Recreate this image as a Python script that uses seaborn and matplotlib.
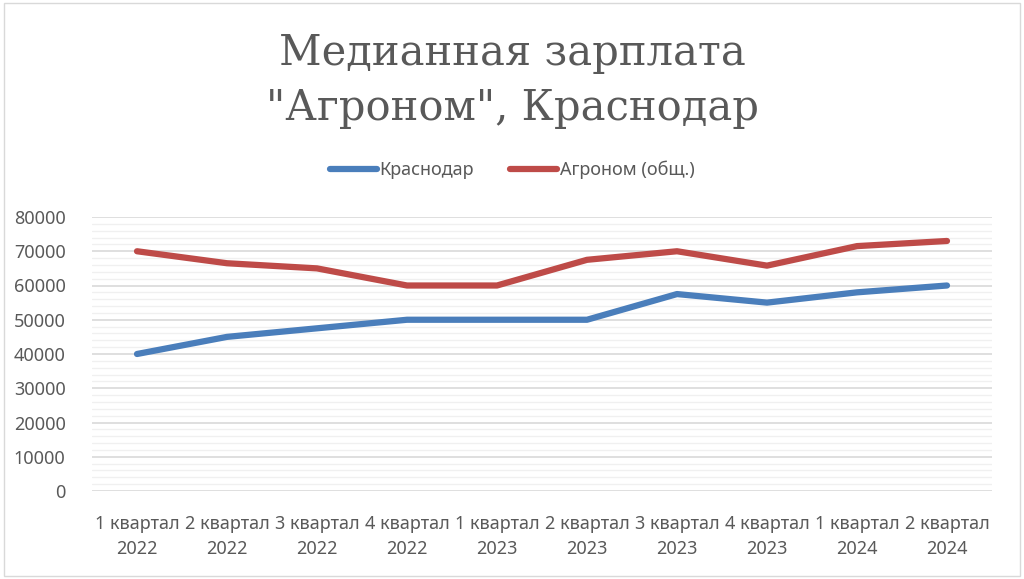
import matplotlib
matplotlib.use("Agg")
import matplotlib.pyplot as plt
import seaborn as sns
import pandas as pd
from matplotlib.patches import Rectangle
from matplotlib.ticker import MultipleLocator
from matplotlib.lines import Line2D

categories = ["1 квартал\n2022", "2 квартал\n2022", "3 квартал\n2022", "4 квартал\n2022",
              "1 квартал\n2023", "2 квартал\n2023", "3 квартал\n2023", "4 квартал\n2023",
              "1 квартал\n2024", "2 квартал\n2024"]
krasnodar = [40000, 45000, 47500, 50000, 50000, 50000, 57500, 55000, 58000, 60000]
agronom = [70000, 66500, 65000, 60000, 60000, 67500, 70000, 65800, 71500, 73000]
series_names = ["Краснодар", "Агроном (общ.)"]
colors = ["#4a7ebb", "#be4b48"]

sns.set_theme(style="white")
plt.rcParams['font.family'] = ['Noto Sans', 'DejaVu Sans']

df = pd.DataFrame({
    "x": list(range(len(categories))) * 2,
    "value": krasnodar + agronom,
    "series": [series_names[0]] * len(categories) + [series_names[1]] * len(categories),
})

fig = plt.figure(figsize=(10.24, 5.79), dpi=100)
ax = fig.add_axes([92 / 1024, 1 - 491 / 579, 900 / 1024, 274 / 579])

sns.lineplot(data=df, x="x", y="value", hue="series", palette=colors, linewidth=4.5,
             ax=ax, legend=False, solid_capstyle="round")

ax.set_xlim(-0.5, len(categories) - 0.5)
ax.set_ylim(0, 80000)
ax.yaxis.set_major_locator(MultipleLocator(10000))
ax.yaxis.set_minor_locator(MultipleLocator(2000))
ax.grid(which="major", axis="y", color="#d9d9d9", linewidth=1.2)
ax.grid(which="minor", axis="y", color="#f0f0f0", linewidth=1.0)
ax.set_axisbelow(True)
for s in ["top", "right", "left", "bottom"]:
    ax.spines[s].set_visible(False)
ax.set_xticks(range(len(categories)))
ax.set_xticklabels(categories, linespacing=1.55)
ax.tick_params(axis="both", which="both", length=0, colors="#595959", labelsize=13)
ax.tick_params(axis="x", pad=17)
ax.tick_params(axis="y", pad=19)
ax.set_xlabel("")
ax.set_ylabel("")

fig.suptitle("Медианная зарплата\n\"Агроном\", Краснодар", y=1 - 32 / 579, va="top",
             fontsize=30, color="#595959", family=["DejaVu Serif"], linespacing=1.38)

handles = [Line2D([0], [0], color=c, linewidth=4.5, solid_capstyle="round") for c in colors]
fig.legend(handles, series_names, loc="center", bbox_to_anchor=(0.5, 1 - 170 / 579), ncol=2,
           frameon=False, fontsize=13, labelcolor="#595959", handlelength=2.6,
           handletextpad=0.15, columnspacing=2.0)

fig.patches.append(Rectangle((0.004, 0.006), 0.992, 0.988, transform=fig.transFigure,
                             fill=False, edgecolor="#d9d9d9", linewidth=1.0))

fig.savefig("out.png", dpi=100)
